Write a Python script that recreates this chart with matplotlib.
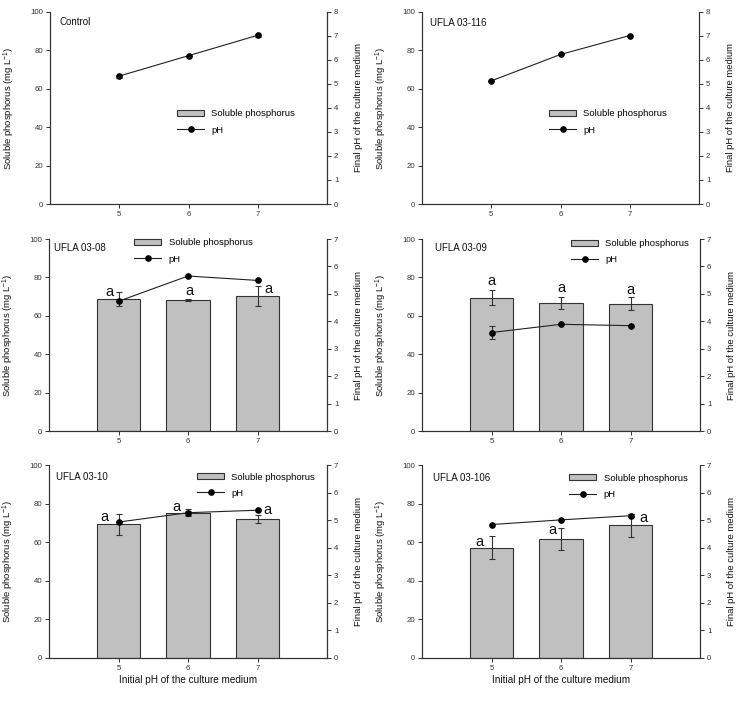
import matplotlib
matplotlib.use("Agg")
import matplotlib.pyplot as plt
import matplotlib.patches as mpatches
from matplotlib.lines import Line2D

plt.rcParams['font.family'] = ['Liberation Sans', 'DejaVu Sans']
plt.rcParams['mathtext.fontset'] = 'custom'
plt.rcParams['mathtext.rm'] = 'Liberation Sans'
plt.rcParams['mathtext.default'] = 'regular'

# ---------------- data ----------------
initial_ph = [5, 6, 7]
panel_names = ['Control', 'UFLA 03-116', 'UFLA 03-08', 'UFLA 03-09', 'UFLA 03-10', 'UFLA 03-106']

sp_0308 = [68.7, 68.2, 70.3]
sp_0308_err = [3.8, 0.7, 5.0]
sp_0309 = [69.4, 66.8, 66.4]
sp_0309_err = [4.0, 3.1, 3.2]
sp_0310 = [69.3, 75.3, 72.1]
sp_0310_err = [5.5, 1.7, 2.1]
sp_03106 = [57.2, 61.5, 68.8]
sp_03106_err = [6.0, 5.6, 5.9]

ph_control = [5.33, 6.18, 7.03]
ph_control_err = [0.06, 0.0, 0.06]
ph_03116 = [5.13, 6.23, 7.02]
ph_03116_err = [0.0, 0.0, 0.0]
ph_0308 = [4.73, 5.65, 5.49]
ph_0308_err = [0.0, 0.0, 0.0]
ph_0309 = [3.59, 3.89, 3.84]
ph_0309_err = [0.24, 0.0, 0.0]
ph_0310 = [4.93, 5.27, 5.36]
ph_0310_err = [0.0, 0.07, 0.0]
ph_03106 = [4.84, 5.01, 5.16]
ph_03106_err = [0.0, 0.0, 0.05]

sig_letters = ['a', 'a', 'a']

soluble = [None, None, sp_0308, sp_0309, sp_0310, sp_03106]
soluble_err = [None, None, sp_0308_err, sp_0309_err, sp_0310_err, sp_03106_err]
final_ph = [ph_control, ph_03116, ph_0308, ph_0309, ph_0310, ph_03106]
final_ph_err = [ph_control_err, ph_03116_err, ph_0308_err, ph_0309_err, ph_0310_err, ph_03106_err]
ph_max = [8, 8, 7, 7, 7, 7]

# ---------------- layout (pixels of a 743x702 figure) ----------------
W, H = 743, 702
axes_px = [(50, 12, 277, 192), (422, 12, 277, 192),
           (49, 239, 278, 192), (422, 239, 278, 192),
           (49, 465, 278, 193), (422, 465, 278, 193)]
title_pos = [(0.033, 0.948), (0.030, 0.943), (0.018, 0.953),
             (0.047, 0.953), (0.025, 0.938), (0.040, 0.933)]
legend_pos = [(0.458, 0.427), (0.458, 0.427), (0.306, 0.9375),
              (0.536, 0.935), (0.532, 0.896), (0.529, 0.89)]
letter_dx = [None, None, [-0.13, 0.02, 0.155], [0, 0, 0],
             [-0.2, -0.16, 0.15], [-0.18, -0.13, 0.18]]
letter_y = [None, None, [72.2, 73.0, 74.1], [78.1, 74.4, 73.4],
            [73.1, 78.1, 76.9], [60.3, 66.2, 72.7]]

dark = '#333333'
bar_color = '#c0c0c0'

fig = plt.figure(figsize=(W / 100, H / 100), dpi=100)

for i in range(6):
    x0, y0, w, h = axes_px[i]
    ax = fig.add_axes([x0 / W, 1 - (y0 + h) / H, w / W, h / H])
    ax2 = ax.twinx()

    if soluble[i] is not None:
        ax.bar(initial_ph, soluble[i], width=0.62, color=bar_color,
               edgecolor=dark, linewidth=0.8, zorder=2)
        ax.errorbar(initial_ph, soluble[i], yerr=soluble_err[i], fmt='none',
                    ecolor=dark, elinewidth=0.8, capsize=2.5, capthick=0.8, zorder=3)
        for k in range(3):
            ax.text(initial_ph[k] + letter_dx[i][k], letter_y[i][k], sig_letters[k],
                    ha='center', va='center', fontsize=10.5, color='#111111', zorder=5)

    ax2.errorbar(initial_ph, final_ph[i], yerr=final_ph_err[i], fmt='-o',
                 color='#222222', ecolor=dark, mfc='black', mec='black', ms=3.8,
                 lw=0.8, elinewidth=0.8, capsize=2.5, capthick=0.8, zorder=4)

    ax.set_xlim(4, 8)
    ax.set_ylim(0, 100)
    ax2.set_ylim(0, ph_max[i])
    ax.set_xticks(initial_ph)
    ax.set_yticks(range(0, 101, 20))
    ax2.set_yticks(range(0, ph_max[i] + 1))

    for a in (ax, ax2):
        a.spines['top'].set_visible(False)
        for s in ('left', 'right', 'bottom'):
            a.spines[s].set_color(dark)
            a.spines[s].set_linewidth(0.8)
        a.tick_params(labelsize=5.6, colors=dark, length=3, width=0.7, pad=2)

    ax.set_ylabel('Soluble phosphorus (mg L$^{-1}$)', fontsize=6.8, color='#111111')
    ax.yaxis.set_label_coords(-33 / w, 0.5)
    ax2.set_ylabel('Final pH of the culture medium', fontsize=6.8, color='#111111')
    ax2.yaxis.set_label_coords(1 + 27 / w, 0.5)

    if i >= 4:
        ax.set_xlabel('Initial pH of the culture medium', fontsize=7.2, color='#111111')
        ax.xaxis.set_label_coords(0.5, -17 / h)

    ax.text(title_pos[i][0], title_pos[i][1], panel_names[i], transform=ax.transAxes,
            ha='left', va='center', fontsize=7, color='#111111')

    handles = [mpatches.Patch(facecolor=bar_color, edgecolor=dark, linewidth=0.8),
               Line2D([], [], color='#222222', lw=0.8, marker='o', ms=3.8, mfc='black', mec='black')]
    ax2.legend(handles, ['Soluble phosphorus', 'pH'], loc='center left',
               bbox_to_anchor=legend_pos[i], frameon=False, fontsize=6.8,
               handlelength=2.9, handleheight=0.6, handletextpad=0.75,
               labelspacing=0.75, borderpad=0, borderaxespad=0)

fig.savefig('out.png', dpi=100)
